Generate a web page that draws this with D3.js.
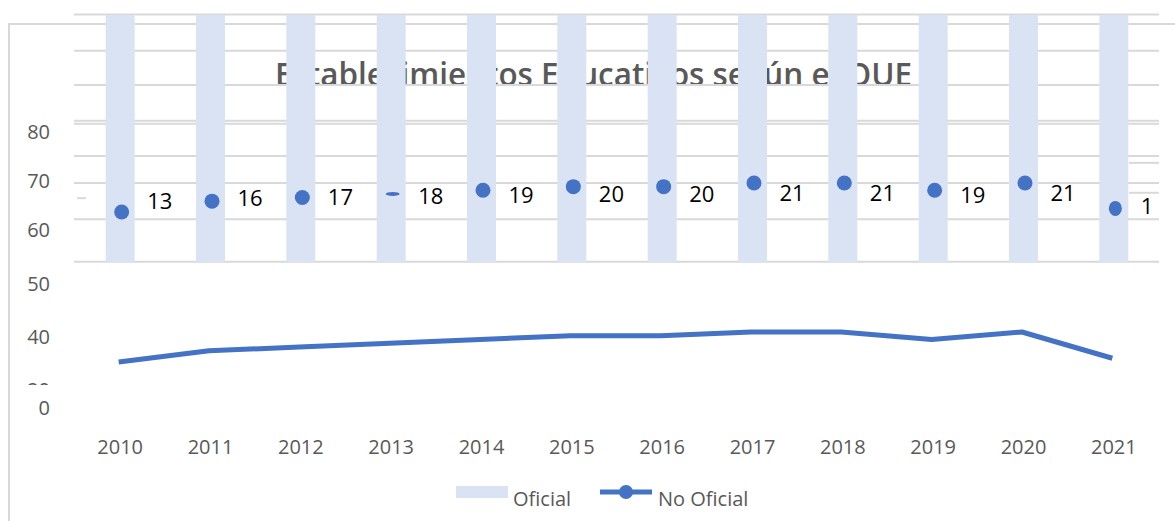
<!DOCTYPE html>
<html>
<head>
<meta charset="utf-8">
<script src="https://cdn.jsdelivr.net/npm/d3@7"></script>
<style>
  body { margin: 0; background: #fff; }
  svg { display: block; }
  text { font-family: "Open Sans", "Noto Sans", sans-serif; }
</style>
</head>
<body>
<svg width="1175" height="521"></svg>
<script>
// data
var years = ['2010', '2011', '2012', '2013', '2014', '2015', '2016', '2017', '2018', '2019', '2020', '2021'];
var oficial = [80, 80, 80, 80, 80, 80, 80, 80, 80, 80, 80, 80]; // bars run off the top of the plot
var noOficial = [13, 16, 17, 18, 19, 20, 20, 21, 21, 19, 21, 14];
var yTicksTop = [80, 70, 60];
var yTicksBottom = [50, 40, 20, 0];
var gridTicks = [104, 96.6, 89.6, 82.3, 81.7, 75.1, 69.6, 62.2, 53.5];
var title = 'Establecimientos Educativos según el OUE';

var grey = '#595959', gridCol = '#d9d9d9', barCol = '#dae3f3', blue = '#4472c4';

var svg = d3.select('svg');

var x = d3.scaleBand().domain(years).range([75, 1159]);
var cx = function(d) { return x(d) + x.bandwidth() / 2; };
var yBar = d3.scaleLinear().domain([0, 80]).range([262, 15]);
var yTop = d3.scaleLinear().domain([60, 80]).range([230, 132]);
var yLow = d3.scaleLinear().domain([0, 20, 40, 50]).range([408, 390, 337, 284]);
var yDot = d3.scaleLinear().domain([13, 21]).range([212, 183]);
var yLabel = d3.scaleLinear().domain([13, 21]).range([201, 193]);
var yLine = d3.scaleLinear().domain([13, 21]).range([362, 332]);

var defs = svg.append('defs');
defs.append('clipPath').attr('id', 'titleClip')
  .append('rect').attr('x', 0).attr('y', 0).attr('width', 1175).attr('height', 86);
defs.append('clipPath').attr('id', 'plotClip')
  .append('rect').attr('x', 0).attr('y', 0).attr('width', 1153).attr('height', 521);
defs.append('clipPath').attr('id', 'lowClip')
  .append('rect').attr('x', 0).attr('y', 0).attr('width', 1175).attr('height', 385);

// chart frame
svg.append('path')
  .attr('d', 'M9,521V24H1175')
  .attr('fill', 'none').attr('stroke', gridCol).attr('stroke-width', 2);

// title (sits behind the grid and bars)
svg.append('text')
  .attr('clip-path', 'url(#titleClip)')
  .attr('x', 275).attr('y', 86)
  .attr('textLength', 637).attr('lengthAdjust', 'spacingAndGlyphs')
  .attr('font-size', 32).attr('font-weight', 600).attr('fill', grey)
  .text(title);

// gridlines
svg.selectAll('.grid')
  .data(gridTicks)
  .enter().append('line')
  .attr('class', 'grid')
  .attr('x1', 74).attr('x2', 1159)
  .attr('y1', function(d) { return yTop(d); })
  .attr('y2', function(d) { return yTop(d); })
  .attr('stroke', gridCol).attr('stroke-width', 2);

// little shifted stubs right of the last bar
svg.selectAll('.stub')
  .data([73.7, 67.6])
  .enter().append('line')
  .attr('x1', 1129).attr('x2', 1159)
  .attr('y1', function(d) { return yTop(d); })
  .attr('y2', function(d) { return yTop(d); })
  .attr('stroke', gridCol).attr('stroke-width', 2);

// left stray tick
svg.append('line')
  .attr('x1', 77).attr('x2', 86)
  .attr('y1', yTop(66.5)).attr('y2', yTop(66.5))
  .attr('stroke', gridCol).attr('stroke-width', 2);

// Oficial bars
svg.selectAll('.bar')
  .data(oficial)
  .enter().append('rect')
  .attr('class', 'bar')
  .attr('x', function(d, i) { return cx(years[i]) - 14.5; })
  .attr('width', 29)
  .attr('y', function(d) { return yBar(d); })
  .attr('height', function(d) { return yBar(0) - yBar(d); })
  .attr('fill', barCol);

// y labels
svg.selectAll('.ytop')
  .data(yTicksTop)
  .enter().append('text')
  .attr('x', 50).attr('y', function(d) { return yTop(d); })
  .attr('dy', '0.35em').attr('text-anchor', 'end')
  .attr('font-size', 20).attr('fill', grey)
  .text(function(d) { return d; });

// lower labels; the 20 is cut off by the broken axis
svg.append('g').attr('clip-path', 'url(#lowClip)')
  .selectAll('text')
  .data(yTicksBottom.filter(function(d) { return d !== 0; }))
  .enter().append('text')
  .attr('x', 50).attr('y', function(d) { return yLow(d); })
  .attr('dy', '0.35em').attr('text-anchor', 'end')
  .attr('font-size', 20).attr('fill', grey)
  .text(function(d) { return d; });
svg.append('text')
  .attr('x', 50).attr('y', yLow(0))
  .attr('dy', '0.35em').attr('text-anchor', 'end')
  .attr('font-size', 20).attr('fill', grey)
  .text(yTicksBottom[3]);

// markers in the upper band
svg.selectAll('.dot')
  .data(noOficial)
  .enter().append('ellipse')
  .attr('cx', function(d, i) { return cx(years[i]) + 1.5; })
  .attr('cy', function(d) { return yDot(d); })
  .attr('rx', function(d, i) { return years[i] === '2013' ? 7 : (years[i] === '2021' ? 6.5 : 7.5); })
  .attr('ry', function(d, i) { return years[i] === '2013' ? 2 : 7.5; })
  .attr('fill', blue);

// data labels
svg.append('g').attr('clip-path', 'url(#plotClip)')
  .selectAll('text')
  .data(noOficial)
  .enter().append('text')
  .attr('x', function(d, i) { return cx(years[i]) + 27; })
  .attr('y', function(d, i) { return yLabel(d) + (years[i] === '2021' ? 6 : 0); })
  .attr('dy', '0.35em')
  .attr('font-size', 22).attr('fill', '#000')
  .text(function(d) { return d; });

// No Oficial line
var line = d3.line()
  .x(function(d, i) { return cx(years[i]) - 1.5; })
  .y(function(d) { return yLine(d); });

svg.append('path')
  .datum(noOficial)
  .attr('d', line)
  .attr('fill', 'none').attr('stroke', blue).attr('stroke-width', 5)
  .attr('stroke-linejoin', 'round');

// year labels
svg.selectAll('.year')
  .data(years)
  .enter().append('text')
  .attr('x', function(d) { return cx(d); })
  .attr('y', 447).attr('dy', '0.35em')
  .attr('text-anchor', 'middle')
  .attr('font-size', 20).attr('fill', grey)
  .text(function(d) { return d; });

// legend
var legend = svg.append('g');
legend.append('rect')
  .attr('x', 456).attr('y', 486).attr('width', 52).attr('height', 12)
  .attr('fill', barCol);
legend.append('text')
  .attr('x', 513).attr('y', 499).attr('dy', '0.35em')
  .attr('font-size', 20).attr('fill', grey)
  .text('Oficial');
legend.append('line')
  .attr('x1', 600).attr('x2', 652).attr('y1', 492).attr('y2', 492)
  .attr('stroke', blue).attr('stroke-width', 5);
legend.append('circle')
  .attr('cx', 626).attr('cy', 492).attr('r', 7)
  .attr('fill', blue);
legend.append('text')
  .attr('x', 658).attr('y', 499).attr('dy', '0.35em')
  .attr('font-size', 20).attr('fill', grey)
  .text('No Oficial');
</script>
</body>
</html>
